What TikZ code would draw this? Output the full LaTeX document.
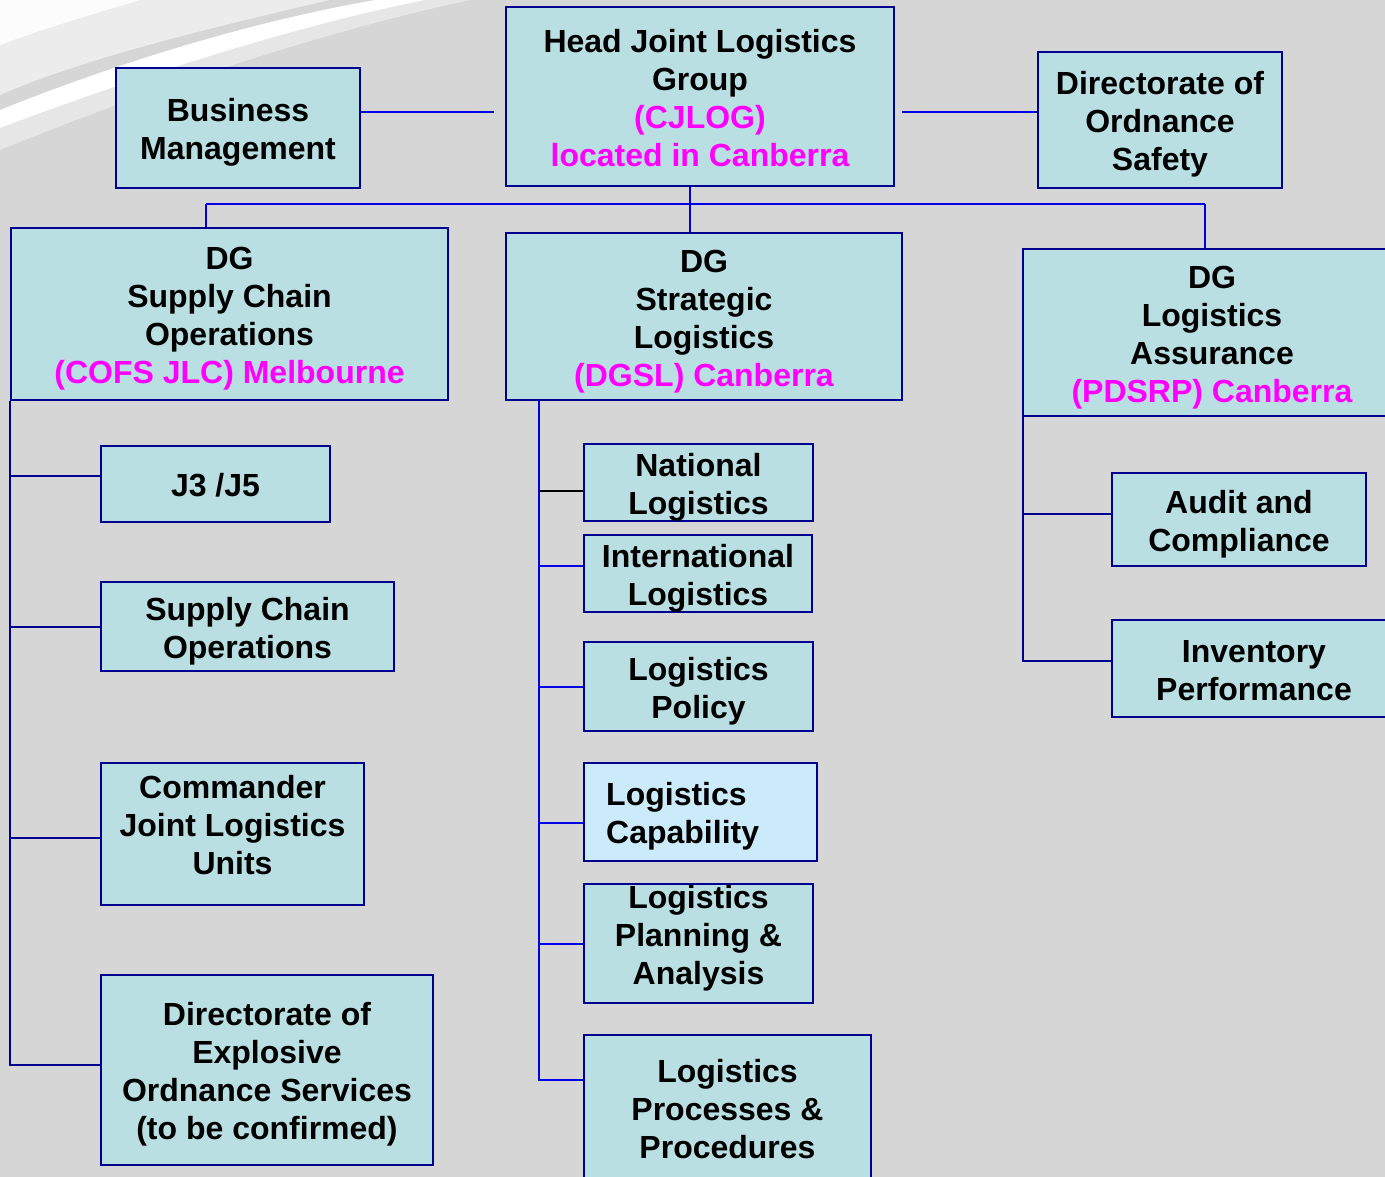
\documentclass[tikz,border=0pt]{standalone}
\usepackage{fontspec}
\setmainfont{Liberation Sans}
\definecolor{bgc}{HTML}{D6D6D6}
\definecolor{boxfill}{HTML}{BADFE3}
\definecolor{capfill}{HTML}{CCEBFA}
\definecolor{navy}{HTML}{000090}
\definecolor{linkblue}{HTML}{0000E6}
\definecolor{mag}{HTML}{FF00FF}
\newcommand\firstln{\rule{0pt}{32.3pt}}
\newcommand\lastln{\rule[-7pt]{0pt}{7pt}}
\tikzset{
  orgbox/.style={draw=navy, line width=2pt, fill=boxfill, rectangle, inner sep=0pt,
    align=center, font=\bfseries\fontsize{32}{38}\selectfont, text=black},
  txt/.style={inner sep=0pt, align=center, font=\bfseries\fontsize{32}{38}\selectfont, text=black},
  conn/.style={draw=linkblue, line width=2pt},
  nconn/.style={draw=navy, line width=2pt},
  kconn/.style={draw=black, line width=2pt}
}
\begin{document}
\begin{tikzpicture}[x=1pt, y=-1pt]
\useasboundingbox (0,0) rectangle (1385,1177);
\clip (0,0) rectangle (1385,1177);
\fill[bgc] (0,0) rectangle (1385,1177);
% swoosh
\fill[white, opacity=0.55] (0,0) -- (330,0) .. controls (200,30) and (80,60) .. (0,95) -- cycle;
\fill[white, opacity=0.85] (0,0) -- (140,0) .. controls (90,15) and (40,30) .. (0,45) -- cycle;
\fill[white] (0,110) .. controls (120,62) and (250,22) .. (375,0) -- (425,0) .. controls (300,25) and (140,75) .. (0,128) -- cycle;
\fill[white, opacity=0.4] (0,128) .. controls (140,75) and (300,25) .. (425,0) -- (470,0) .. controls (330,30) and (160,85) .. (0,150) -- cycle;

% top row
\node[orgbox, minimum width=244, minimum height=120] (bm) at (238,128) {\firstln Business\\Management\lastln};
\node[orgbox, minimum width=388, minimum height=179] (head) at (700,96.5)
  {\firstln Head Joint Logistics\\Group\\\textcolor{mag}{(CJLOG)}\\\textcolor{mag}{located in Canberra}\lastln};
\node[orgbox, minimum width=244, minimum height=136] (dos) at (1160,120) {\firstln Directorate of\\Ordnance\\Safety\lastln};

% DG row
\node[orgbox, minimum width=437, minimum height=172] (dgsc) at (229.5,314)
  {\firstln DG\\Supply Chain\\Operations\\\textcolor{mag}{(COFS JLC) Melbourne}\lastln};
\node[orgbox, minimum width=396, minimum height=167] (dgsl) at (704,316.5)
  {\firstln DG\\Strategic\\Logistics\\\textcolor{mag}{(DGSL) Canberra}\lastln};
\node[orgbox, minimum width=378, minimum height=167] (dgla) at (1212,332.5)
  {\firstln DG\\Logistics\\Assurance\\\textcolor{mag}{(PDSRP) Canberra}\lastln};

% left column
\node[orgbox, minimum width=229, minimum height=76] (j3) at (215.5,484) {\firstln J3 /J5\lastln};
\node[orgbox, minimum width=293, minimum height=89] (sco) at (247.5,626.5) {\firstln Supply Chain\\Operations\lastln};
\node[orgbox, minimum width=263, minimum height=142] (cjlu) at (232.5,834) {};
\node[txt] (cjlu-t) at (232.5,825) {Commander\\Joint Logistics\\Units};
\node[orgbox, minimum width=332, minimum height=190] (deos) at (267,1070)
  {\firstln Directorate of\\Explosive\\Ordnance Services\\(to be confirmed)\lastln};

% centre column
\node[orgbox, minimum width=229, minimum height=73] (nat) at (698.5,482.5) {\firstln National\\Logistics\lastln};
\node[orgbox, minimum width=228, minimum height=75] (intl) at (698,573.5) {\firstln International\\Logistics\lastln};
\node[orgbox, minimum width=229, minimum height=89] (pol) at (698.5,686.5) {\firstln Logistics\\Policy\lastln};
\node[orgbox, fill=capfill, minimum width=233, minimum height=98] (cap) at (700.5,812) {};
\node[txt, align=left, anchor=west] (cap-t) at (606,816) {Logistics\\Capability};
\node[orgbox, minimum width=229, minimum height=119] (plan) at (698.5,943.5) {};
\node[txt] (plan-t) at (698.5,938.5) {Logistics\\Planning \&\\Analysis};
\node[orgbox, minimum width=287, minimum height=165] (proc) at (727.5,1117.5) {};
\node[txt] (proc-t) at (727.5,1109) {Logistics\\Processes \&\\Procedures};

% right column
\node[orgbox, minimum width=254, minimum height=93] (aud) at (1239,519.5) {\firstln Audit and\\Compliance\lastln};
\node[orgbox, minimum width=284, minimum height=97] (inv) at (1254,668.5) {\firstln Inventory\\Performance\lastln};

% connectors, top
\coordinate (hL) at (494,112);
\coordinate (hR) at (902,112);
\draw[conn] (bm.east |- hL) -- (hL);
\draw[conn] (hR) -- (dos.west |- hR);
\coordinate (busL) at (206,204);
\coordinate (busR) at (1205,204);
\draw[conn] (busL) -- (busR);
\draw[conn] (head.south -| 690,0) -- (dgsl.north -| 690,0);
\draw[conn] (busL) -- (dgsc.north -| busL);
\draw[conn] (busR) -- (dgla.north -| busR);

% left tree
\coordinate (lb) at (10,1065);
\draw[nconn] (dgsc.south -| lb) -- (lb) -- (deos.west |- lb);
\draw[nconn] (10,476) -- (j3.west |- 0,476);
\draw[nconn] (10,627) -- (sco.west |- 0,627);
\draw[nconn] (10,838) -- (cjlu.west |- 0,838);

% centre tree
\coordinate (cb) at (539,1080);
\draw[conn] (dgsl.south -| cb) -- (cb) -- (proc.west |- cb);
\draw[kconn] (539,491) -- (nat.west |- 0,491);
\draw[conn] (539,566) -- (intl.west |- 0,566);
\draw[conn] (539,687) -- (pol.west |- 0,687);
\draw[conn] (539,823) -- (cap.west |- 0,823);
\draw[conn] (539,944) -- (plan.west |- 0,944);

% right tree
\coordinate (rb) at (1023,661);
\draw[nconn] (dgla.south -| rb) -- (rb) -- (inv.west |- rb);
\draw[nconn] (1023,514) -- (aud.west |- 0,514);
\end{tikzpicture}
\end{document}
